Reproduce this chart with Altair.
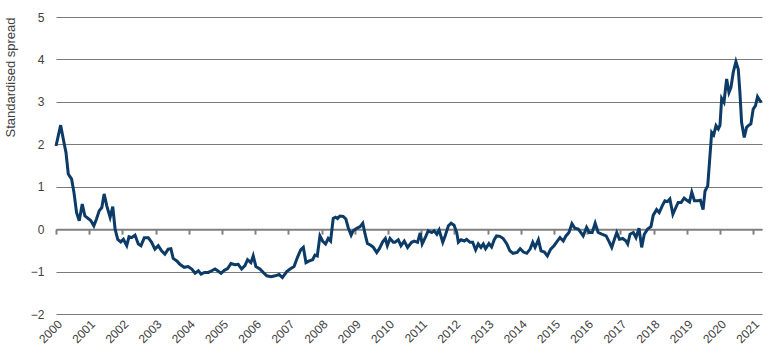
import altair as alt
import pandas as pd

# ---- data (decimal year, standardised spread) ----
t_2000s = [2000.00, 2000.14, 2000.24, 2000.30, 2000.37, 2000.47, 2000.54, 2000.62, 2000.70, 2000.79,
           2000.87, 2000.97, 2001.05, 2001.14, 2001.22, 2001.30, 2001.38, 2001.45, 2001.53, 2001.63,
           2001.71, 2001.78, 2001.86, 2001.95, 2002.03, 2002.13, 2002.20, 2002.28, 2002.38, 2002.48,
           2002.56, 2002.66, 2002.78, 2002.88, 2002.98, 2003.08, 2003.18, 2003.28, 2003.38, 2003.46,
           2003.53, 2003.64, 2003.73, 2003.86, 2003.98, 2004.09, 2004.19, 2004.29, 2004.37, 2004.47,
           2004.59, 2004.69, 2004.79, 2004.87, 2004.97, 2005.07, 2005.17, 2005.27, 2005.39, 2005.49,
           2005.59, 2005.69, 2005.77, 2005.87, 2005.94, 2006.02, 2006.14, 2006.24, 2006.35, 2006.48,
           2006.60, 2006.72, 2006.82]
v_2000s = [1.96, 2.45, 2.04, 1.81, 1.30, 1.18, 0.87, 0.39, 0.20, 0.59,
           0.31, 0.25, 0.20, 0.08, 0.24, 0.43, 0.51, 0.83, 0.55, 0.28,
           0.53, 0.00, -0.24, -0.30, -0.24, -0.39, -0.18, -0.20, -0.14, -0.35,
           -0.39, -0.20, -0.20, -0.31, -0.47, -0.39, -0.51, -0.59, -0.47, -0.46,
           -0.69, -0.75, -0.83, -0.90, -0.88, -0.94, -1.04, -0.98, -1.06, -1.02,
           -1.02, -0.98, -0.94, -0.98, -1.04, -0.97, -0.93, -0.81, -0.84, -0.83,
           -0.94, -0.86, -0.72, -0.79, -0.63, -0.88, -0.94, -1.02, -1.10, -1.12,
           -1.10, -1.07, -1.14]

t_2007s = [2006.95, 2007.05, 2007.17, 2007.27, 2007.37, 2007.45, 2007.53, 2007.63, 2007.73, 2007.80,
           2007.87, 2007.95, 2008.03, 2008.12, 2008.20, 2008.27, 2008.35, 2008.42, 2008.48, 2008.55,
           2008.65, 2008.73, 2008.80, 2008.89, 2008.95, 2009.06, 2009.16, 2009.24, 2009.31, 2009.38,
           2009.48, 2009.56, 2009.66, 2009.74, 2009.84, 2009.92, 2009.98, 2010.06, 2010.16, 2010.21,
           2010.31, 2010.39, 2010.49, 2010.59, 2010.71, 2010.79, 2010.89, 2010.97, 2011.03, 2011.11,
           2011.21, 2011.32, 2011.39, 2011.47, 2011.54, 2011.65, 2011.72, 2011.82, 2011.90, 2011.99,
           2012.07, 2012.12, 2012.20, 2012.30, 2012.37, 2012.47, 2012.55, 2012.64, 2012.72, 2012.80,
           2012.87, 2012.94, 2013.04, 2013.12, 2013.20, 2013.27, 2013.37, 2013.47, 2013.58, 2013.67,
           2013.77]
v_2007s = [-1.00, -0.94, -0.88, -0.67, -0.49, -0.43, -0.79, -0.75, -0.72, -0.61,
           -0.63, -0.16, -0.28, -0.35, -0.22, -0.28, 0.25, 0.28, 0.25, 0.31,
           0.30, 0.24, 0.04, -0.14, -0.04, 0.02, 0.06, 0.14, -0.12, -0.34,
           -0.38, -0.43, -0.55, -0.46, -0.30, -0.22, -0.39, -0.22, -0.31, -0.31,
           -0.25, -0.39, -0.28, -0.43, -0.31, -0.28, -0.31, -0.09, -0.35, -0.22,
           -0.04, -0.08, -0.04, -0.12, -0.02, -0.31, -0.16, 0.08, 0.14, 0.09,
           -0.08, -0.31, -0.25, -0.28, -0.24, -0.31, -0.31, -0.49, -0.35, -0.43,
           -0.35, -0.46, -0.34, -0.42, -0.25, -0.16, -0.17, -0.22, -0.35, -0.51,
           -0.57]

t_2014s = [2013.89, 2013.98, 2014.08, 2014.18, 2014.28, 2014.36, 2014.43, 2014.53, 2014.61, 2014.71,
           2014.80, 2014.90, 2015.00, 2015.10, 2015.18, 2015.28, 2015.36, 2015.45, 2015.54, 2015.63,
           2015.73, 2015.81, 2015.88, 2015.98, 2016.06, 2016.15, 2016.24, 2016.33, 2016.44, 2016.57,
           2016.67, 2016.74, 2016.82, 2016.89, 2016.97, 2017.07, 2017.17, 2017.22, 2017.29, 2017.39,
           2017.47, 2017.56, 2017.64, 2017.72, 2017.82, 2017.92, 2017.99, 2018.09, 2018.17, 2018.26,
           2018.34, 2018.42, 2018.49, 2018.58, 2018.67, 2018.74, 2018.83, 2018.92, 2019.00, 2019.08,
           2019.15, 2019.23, 2019.33, 2019.41, 2019.49, 2019.55, 2019.63, 2019.69, 2019.75, 2019.81,
           2019.88, 2019.95, 2020.00, 2020.05, 2020.12, 2020.20, 2020.27, 2020.33, 2020.40, 2020.48,
           2020.55, 2020.60, 2020.65, 2020.73, 2020.80, 2020.87, 2020.93, 2021.00, 2021.07, 2021.13,
           2021.20, 2021.25]
v_2014s = [-0.55, -0.46, -0.54, -0.57, -0.47, -0.31, -0.43, -0.25, -0.51, -0.54,
           -0.63, -0.47, -0.39, -0.28, -0.20, -0.28, -0.16, -0.08, 0.13, 0.02,
           0.00, -0.08, -0.16, 0.04, -0.08, -0.08, 0.14, -0.08, -0.12, -0.16,
           -0.31, -0.43, -0.24, -0.08, -0.24, -0.22, -0.28, -0.35, -0.12, -0.08,
           -0.20, 0.02, -0.43, -0.12, 0.00, 0.06, 0.33, 0.46, 0.39, 0.55,
           0.67, 0.65, 0.71, 0.35, 0.51, 0.63, 0.63, 0.73, 0.68, 0.64,
           0.87, 0.67, 0.67, 0.68, 0.46, 0.90, 1.02, 1.65, 2.28, 2.22,
           2.44, 2.36, 2.45, 3.08, 2.99, 3.54, 3.22, 3.34, 3.70, 3.95,
           3.77, 3.22, 2.52, 2.16, 2.40, 2.45, 2.48, 2.83, 2.91, 3.12,
           3.03, 2.99]

year_ticks = list(range(2000, 2022))
y_ticks = [-2, -1, 0, 1, 2, 3, 4, 5]

df = pd.DataFrame({"t": t_2000s + t_2007s + t_2014s,
                   "v": v_2000s + v_2007s + v_2014s})

H = 297
chart = alt.Chart(df).mark_line(color="#0b3b66", strokeWidth=3).encode(
    x=alt.X("t:Q",
            scale=alt.Scale(domain=[2000, 2021.265], nice=False, zero=False),
            axis=alt.Axis(values=year_ticks, format="d", labelAngle=-45,
                          offset=-H * 2 / 7, labelPadding=84, tickSize=5,
                          tickWidth=2, tickColor="#808080", domainColor="#808080",
                          domainWidth=2, grid=False, title=None,
                          labelFontSize=12, labelColor="#404040")),
    y=alt.Y("v:Q",
            scale=alt.Scale(domain=[-2, 5], nice=False),
            axis=alt.Axis(values=y_ticks, grid=True, gridColor="#7a7a7a",
                          gridWidth=1.2, domain=False, ticks=False, labelPadding=12,
                          labelFontSize=12, labelColor="#404040",
                          title="Standardised spread", titleAnchor="end",
                          titleFontWeight="normal", titleFontSize=13,
                          titleColor="#404040", titlePadding=13)),
).properties(
    width=706, height=H,
    autosize=alt.AutoSizeParams(type="none"),
    padding={"left": 56, "top": 17, "right": 8, "bottom": 41},
).configure(font="Liberation Sans").configure_view(stroke=None)

chart.save("out.html", embed_options={"renderer": "svg", "actions": False})
